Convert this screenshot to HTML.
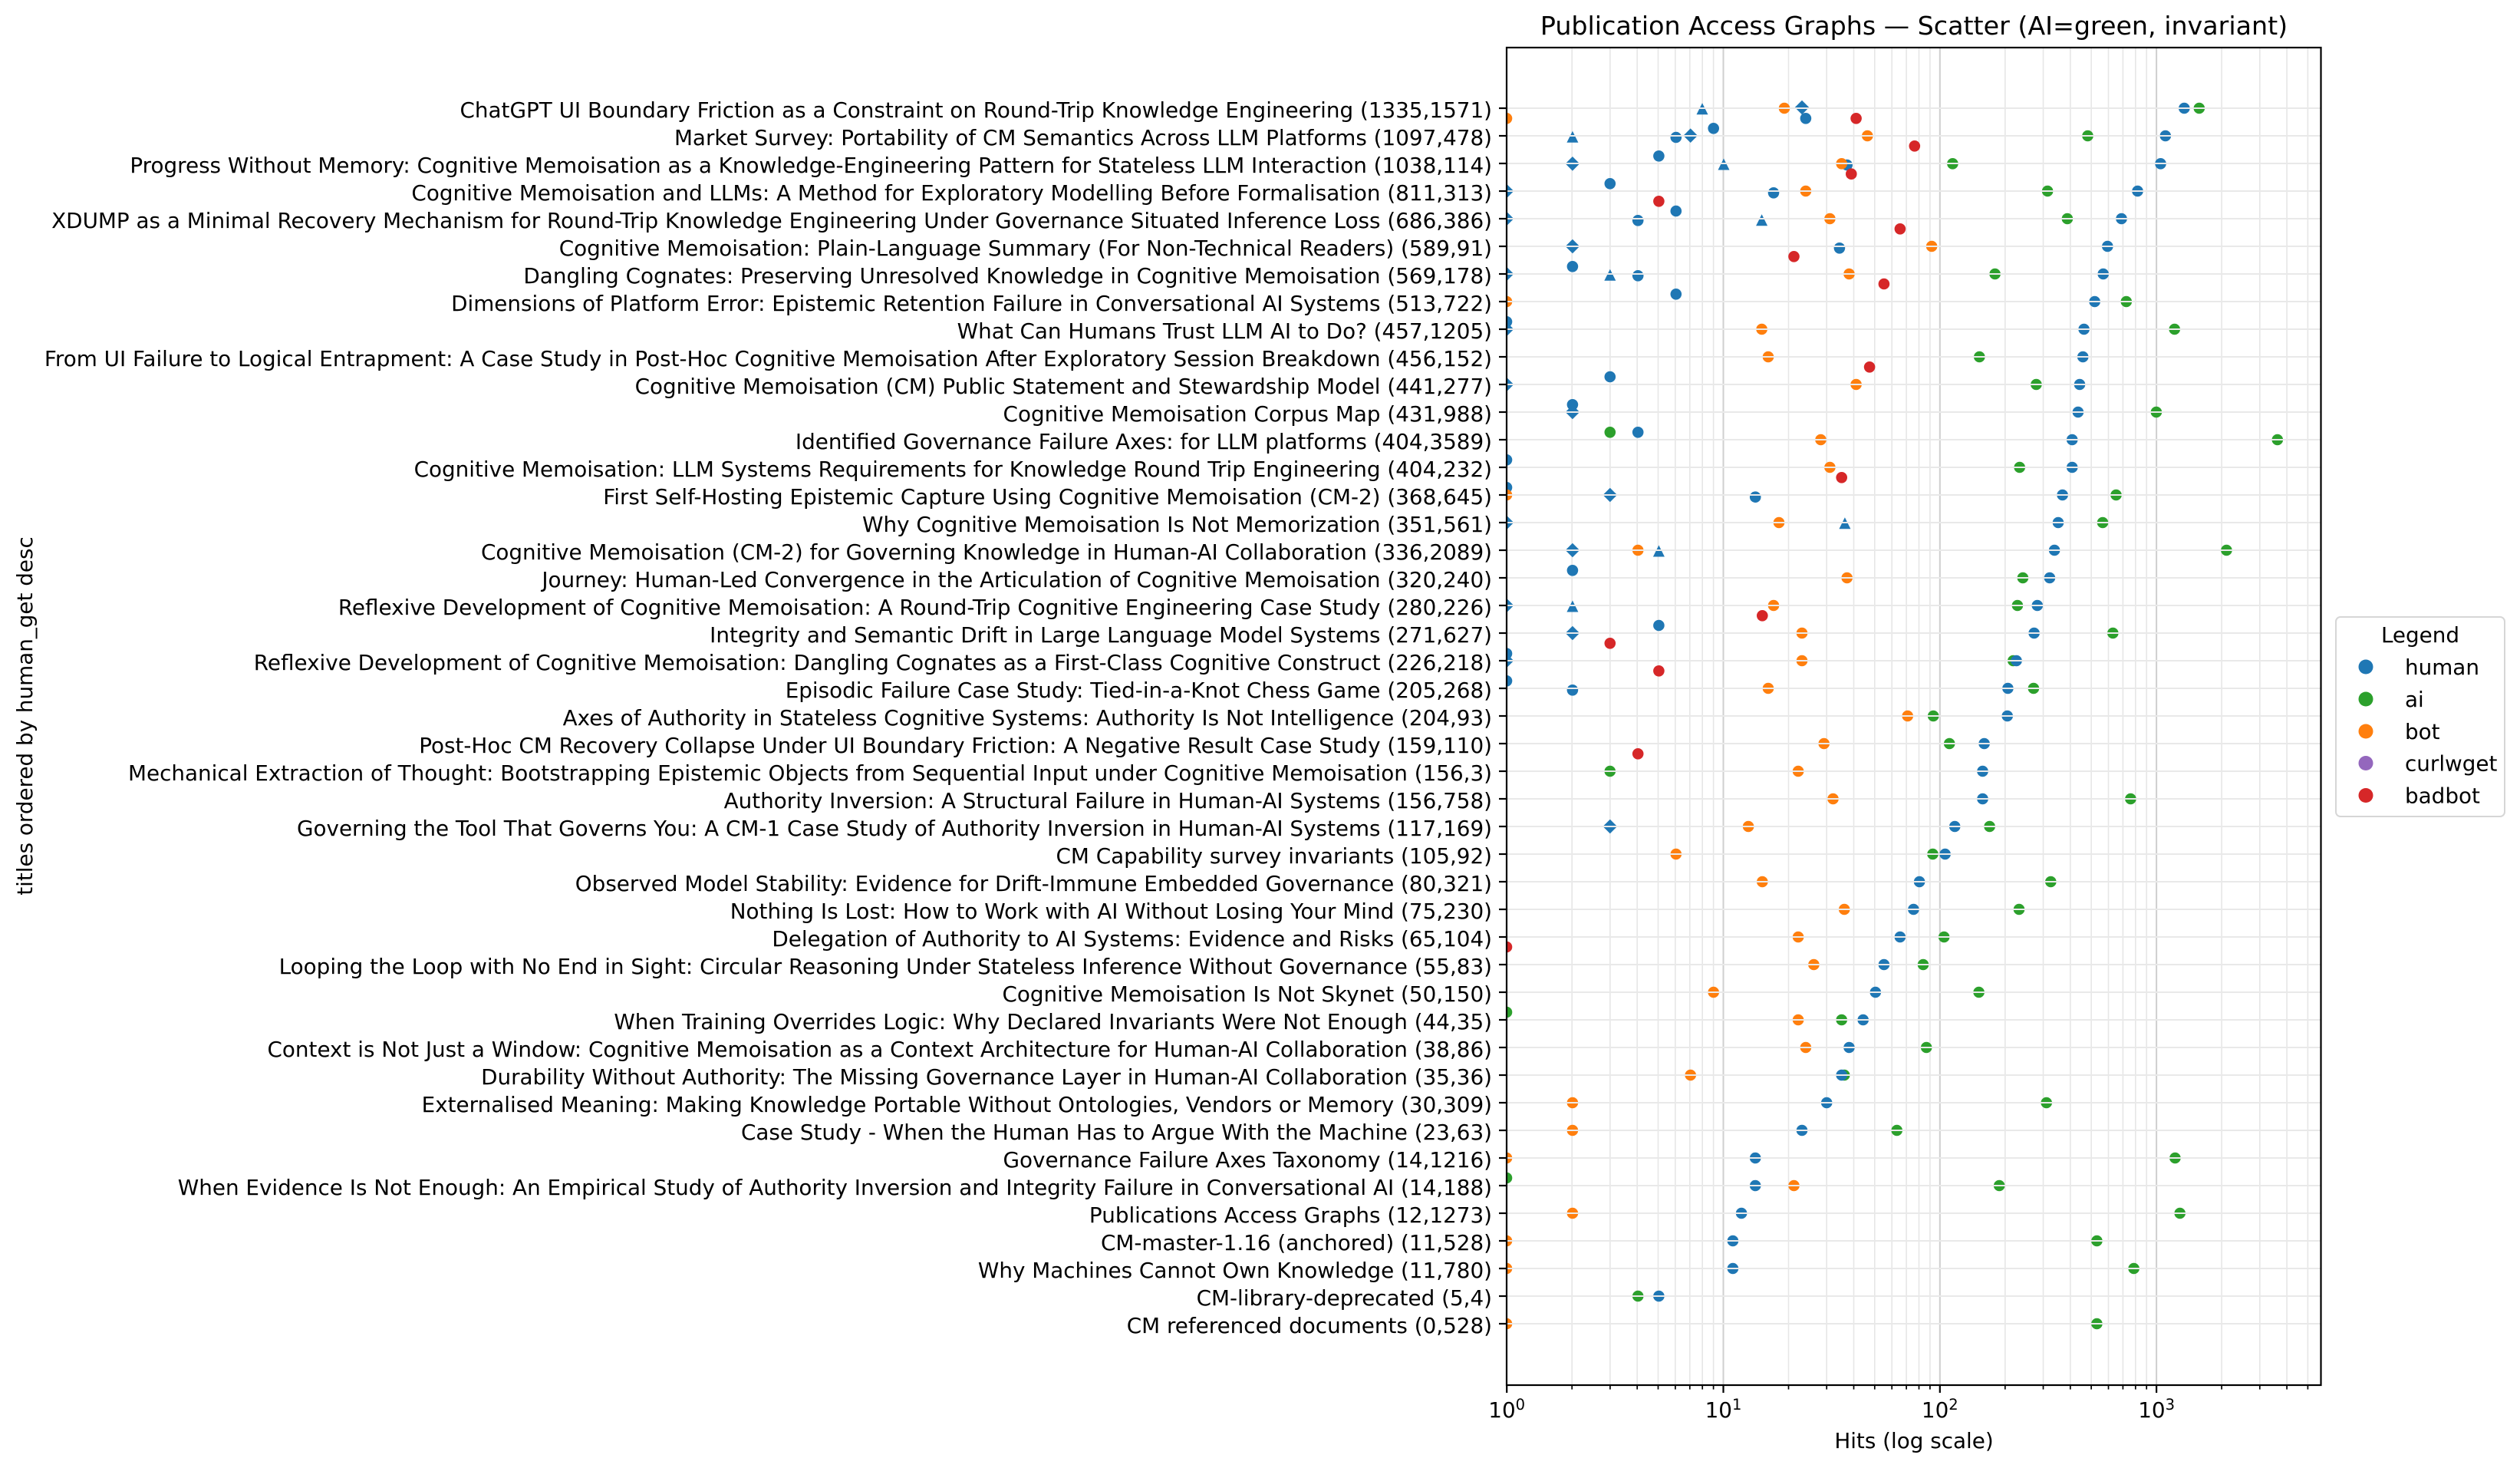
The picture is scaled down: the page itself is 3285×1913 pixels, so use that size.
<!DOCTYPE html>
<html><head><meta charset="utf-8"><style>html,body{margin:0;padding:0;background:#fff}svg{display:block}</style></head>
<body>
<svg width="3285" height="1913" viewBox="0 0 3285 1913" xmlns="http://www.w3.org/2000/svg" font-family="'DejaVu Sans','Liberation Sans',sans-serif">
<defs><clipPath id="ax"><rect x="1964" y="62" width="1062" height="1743"/></clipPath></defs>
<rect width="3285" height="1913" fill="#fff"/>
<text x="2495" y="45" font-size="33.3" text-anchor="middle" fill="#000">Publication Access Graphs — Scatter (AI=green, invariant)</text>
<g stroke="#e6e6e6" stroke-width="1.6">
<line x1="2049.2" y1="62" x2="2049.2" y2="1805"/><line x1="2098.9" y1="62" x2="2098.9" y2="1805"/><line x1="2134.2" y1="62" x2="2134.2" y2="1805"/><line x1="2161.5" y1="62" x2="2161.5" y2="1805"/><line x1="2183.9" y1="62" x2="2183.9" y2="1805"/><line x1="2202.8" y1="62" x2="2202.8" y2="1805"/><line x1="2219.2" y1="62" x2="2219.2" y2="1805"/><line x1="2233.6" y1="62" x2="2233.6" y2="1805"/>
<line x1="2331.5" y1="62" x2="2331.5" y2="1805"/><line x1="2381.2" y1="62" x2="2381.2" y2="1805"/><line x1="2416.5" y1="62" x2="2416.5" y2="1805"/><line x1="2443.8" y1="62" x2="2443.8" y2="1805"/><line x1="2466.2" y1="62" x2="2466.2" y2="1805"/><line x1="2485.1" y1="62" x2="2485.1" y2="1805"/><line x1="2501.5" y1="62" x2="2501.5" y2="1805"/><line x1="2515.9" y1="62" x2="2515.9" y2="1805"/>
<line x1="2613.8" y1="62" x2="2613.8" y2="1805"/><line x1="2663.5" y1="62" x2="2663.5" y2="1805"/><line x1="2698.8" y1="62" x2="2698.8" y2="1805"/><line x1="2726.1" y1="62" x2="2726.1" y2="1805"/><line x1="2748.5" y1="62" x2="2748.5" y2="1805"/><line x1="2767.4" y1="62" x2="2767.4" y2="1805"/><line x1="2783.8" y1="62" x2="2783.8" y2="1805"/><line x1="2798.2" y1="62" x2="2798.2" y2="1805"/>
<line x1="2896.1" y1="62" x2="2896.1" y2="1805"/><line x1="2945.8" y1="62" x2="2945.8" y2="1805"/><line x1="2981.1" y1="62" x2="2981.1" y2="1805"/><line x1="3008.4" y1="62" x2="3008.4" y2="1805"/>
</g>
<g stroke="#cfcfcf" stroke-width="2">
<line x1="2246.5" y1="62" x2="2246.5" y2="1805"/><line x1="2528.8" y1="62" x2="2528.8" y2="1805"/><line x1="2811.1" y1="62" x2="2811.1" y2="1805"/>
</g>
<g clip-path="url(#ax)">
<g fill="#2ca02c">
<circle cx="2866.8" cy="141" r="7.3"/><circle cx="2721.5" cy="177" r="7.3"/><circle cx="2545.4" cy="213.3" r="7.3"/><circle cx="2669.1" cy="249" r="7.3"/><circle cx="2694.9" cy="285" r="7.3"/><circle cx="2600.6" cy="357" r="7.3"/><circle cx="2771.8" cy="393" r="7.3"/><circle cx="2834.7" cy="429" r="7.3"/><circle cx="2580.3" cy="465" r="7.3"/><circle cx="2654.4" cy="501" r="7.3"/><circle cx="2810.9" cy="537" r="7.3"/><circle cx="2098.8" cy="563.3" r="7.3"/><circle cx="2968.8" cy="573" r="7.3"/><circle cx="2632.7" cy="609" r="7.3"/><circle cx="2758.5" cy="645" r="7.3"/><circle cx="2741" cy="681" r="7.3"/><circle cx="2902.4" cy="717" r="7.3"/><circle cx="2636.9" cy="753" r="7.3"/><circle cx="2629.9" cy="789" r="7.3"/><circle cx="2754.3" cy="825" r="7.3"/><circle cx="2624.3" cy="861" r="7.3"/><circle cx="2650.9" cy="897" r="7.3"/><circle cx="2520.2" cy="933" r="7.3"/><circle cx="2541.2" cy="969" r="7.3"/><circle cx="2098.8" cy="1005" r="7.3"/><circle cx="2777.4" cy="1041" r="7.3"/><circle cx="2593.6" cy="1077" r="7.3"/><circle cx="2519.5" cy="1113" r="7.3"/><circle cx="2673.3" cy="1149" r="7.3"/><circle cx="2632" cy="1185" r="7.3"/><circle cx="2534.2" cy="1221" r="7.3"/><circle cx="2507" cy="1257" r="7.3"/><circle cx="2579.6" cy="1293" r="7.3"/><circle cx="1964" cy="1319" r="7.3"/><circle cx="2400.7" cy="1329" r="7.3"/><circle cx="2511.2" cy="1365" r="7.3"/><circle cx="2404.2" cy="1401" r="7.3"/><circle cx="2667.7" cy="1437" r="7.3"/><circle cx="2472.7" cy="1473" r="7.3"/><circle cx="2835.4" cy="1509" r="7.3"/><circle cx="1964" cy="1535" r="7.3"/><circle cx="2606.2" cy="1545" r="7.3"/><circle cx="2841.7" cy="1581" r="7.3"/><circle cx="2733.4" cy="1617" r="7.3"/><circle cx="2781.6" cy="1653" r="7.3"/><circle cx="2135.2" cy="1689" r="7.3"/><circle cx="2733.4" cy="1725" r="7.3"/>
</g>
<g fill="#1f77b4">
<circle cx="2353.9" cy="154.3" r="7.3"/><circle cx="2847.3" cy="141" r="7.3"/><circle cx="2233.7" cy="167.3" r="7.3"/><circle cx="2184.8" cy="179" r="7.3"/><circle cx="2822.8" cy="177" r="7.3"/><circle cx="2162.4" cy="203.3" r="7.3"/><circle cx="2407.7" cy="215" r="7.3"/><circle cx="2816.5" cy="213.3" r="7.3"/><circle cx="2098.8" cy="239.3" r="7.3"/><circle cx="2312" cy="251.3" r="7.3"/><circle cx="2786.5" cy="249" r="7.3"/><circle cx="2184.8" cy="275" r="7.3"/><circle cx="2135.2" cy="287.3" r="7.3"/><circle cx="2765.5" cy="285" r="7.3"/><circle cx="2397.9" cy="323.3" r="7.3"/><circle cx="2747.3" cy="321" r="7.3"/><circle cx="2049.9" cy="347.3" r="7.3"/><circle cx="2135.2" cy="359.3" r="7.3"/><circle cx="2741.7" cy="357" r="7.3"/><circle cx="2184.8" cy="383.3" r="7.3"/><circle cx="2730.6" cy="393" r="7.3"/><circle cx="1964" cy="419.3" r="7.3"/><circle cx="2716.6" cy="429" r="7.3"/><circle cx="2715.2" cy="465" r="7.3"/><circle cx="2098.8" cy="491" r="7.3"/><circle cx="2711" cy="501" r="7.3"/><circle cx="2049.9" cy="527.3" r="7.3"/><circle cx="2708.9" cy="537" r="7.3"/><circle cx="2135.2" cy="563.3" r="7.3"/><circle cx="2701.2" cy="573" r="7.3"/><circle cx="1964" cy="599.3" r="7.3"/><circle cx="2701.2" cy="609" r="7.3"/><circle cx="1964" cy="635.3" r="7.3"/><circle cx="2288.2" cy="647.7" r="7.3"/><circle cx="2688.6" cy="645" r="7.3"/><circle cx="2683" cy="681" r="7.3"/><circle cx="2678.1" cy="717" r="7.3"/><circle cx="2049.9" cy="743.3" r="7.3"/><circle cx="2671.9" cy="753" r="7.3"/><circle cx="2655.8" cy="789" r="7.3"/><circle cx="2162.4" cy="815" r="7.3"/><circle cx="2651.6" cy="825" r="7.3"/><circle cx="1964" cy="851.7" r="7.3"/><circle cx="2628.5" cy="861" r="7.3"/><circle cx="1964" cy="887.3" r="7.3"/><circle cx="2049.9" cy="899.3" r="7.3"/><circle cx="2617.4" cy="897" r="7.3"/><circle cx="2616.7" cy="933" r="7.3"/><circle cx="2586.6" cy="969" r="7.3"/><circle cx="2584.5" cy="1005" r="7.3"/><circle cx="2584.5" cy="1041" r="7.3"/><circle cx="2548.2" cy="1077" r="7.3"/><circle cx="2535.6" cy="1113" r="7.3"/><circle cx="2502.1" cy="1149" r="7.3"/><circle cx="2494.4" cy="1185" r="7.3"/><circle cx="2476.9" cy="1221" r="7.3"/><circle cx="2455.9" cy="1257" r="7.3"/><circle cx="2444.8" cy="1293" r="7.3"/><circle cx="2428.7" cy="1329" r="7.3"/><circle cx="2410.5" cy="1365" r="7.3"/><circle cx="2400.7" cy="1401" r="7.3"/><circle cx="2381.2" cy="1437" r="7.3"/><circle cx="2349" cy="1473" r="7.3"/><circle cx="2288.2" cy="1509" r="7.3"/><circle cx="2288.2" cy="1545" r="7.3"/><circle cx="2270.1" cy="1581" r="7.3"/><circle cx="2258.9" cy="1617" r="7.3"/><circle cx="2258.9" cy="1653" r="7.3"/><circle cx="2162.4" cy="1689" r="7.3"/>
<polygon points="2219,134.2 2211.5,149.2 2226.5,149.2"/><polygon points="2049.9,170.8 2042.4,185.8 2057.4,185.8"/><polygon points="2247,206.5 2239.5,221.5 2254.5,221.5"/><polygon points="2296.6,279.2 2289.1,294.2 2304.1,294.2"/><polygon points="2098.8,350.8 2091.3,365.8 2106.3,365.8"/><polygon points="2404.9,674.2 2397.4,689.2 2412.4,689.2"/><polygon points="2162.4,710.5 2154.9,725.5 2169.9,725.5"/><polygon points="2049.9,782.5 2042.4,797.5 2057.4,797.5"/>
<polygon points="2349,130.7 2358.3,140 2349,149.3 2339.7,140"/><polygon points="2203.7,167.4 2213,176.7 2203.7,186 2194.4,176.7"/><polygon points="2049.9,204 2059.2,213.3 2049.9,222.6 2040.6,213.3"/><polygon points="1964,239.7 1973.3,249 1964,258.3 1954.7,249"/><polygon points="1964,275.7 1973.3,285 1964,294.3 1954.7,285"/><polygon points="2049.9,311.7 2059.2,321 2049.9,330.3 2040.6,321"/><polygon points="1964,347.7 1973.3,357 1964,366.3 1954.7,357"/><polygon points="1964,419.7 1973.3,429 1964,438.3 1954.7,429"/><polygon points="1964,491.7 1973.3,501 1964,510.3 1954.7,501"/><polygon points="2049.9,527.7 2059.2,537 2049.9,546.3 2040.6,537"/><polygon points="2098.8,635.7 2108.1,645 2098.8,654.3 2089.5,645"/><polygon points="1964,671.7 1973.3,681 1964,690.3 1954.7,681"/><polygon points="2049.9,707.7 2059.2,717 2049.9,726.3 2040.6,717"/><polygon points="1964,779.7 1973.3,789 1964,798.3 1954.7,789"/><polygon points="2049.9,815.7 2059.2,825 2049.9,834.3 2040.6,825"/><polygon points="1964,851.7 1973.3,861 1964,870.3 1954.7,861"/><polygon points="2098.8,1067.7 2108.1,1077 2098.8,1086.3 2089.5,1077"/>
</g>
<g fill="#ff7f0e">
<circle cx="2326" cy="141" r="7.3"/><circle cx="1964" cy="154.3" r="7.3"/><circle cx="2434.3" cy="177" r="7.3"/><circle cx="2400.7" cy="213.3" r="7.3"/><circle cx="2353.9" cy="249" r="7.3"/><circle cx="2385.4" cy="285" r="7.3"/><circle cx="2518.1" cy="321" r="7.3"/><circle cx="2410.5" cy="357" r="7.3"/><circle cx="1964" cy="393" r="7.3"/><circle cx="2296.6" cy="429" r="7.3"/><circle cx="2305" cy="465" r="7.3"/><circle cx="2419.6" cy="501" r="7.3"/><circle cx="2373.5" cy="573" r="7.3"/><circle cx="2385.4" cy="609" r="7.3"/><circle cx="1964" cy="645" r="7.3"/><circle cx="2319" cy="681" r="7.3"/><circle cx="2135.2" cy="717" r="7.3"/><circle cx="2407.7" cy="753" r="7.3"/><circle cx="2312" cy="789" r="7.3"/><circle cx="2349" cy="825" r="7.3"/><circle cx="2349" cy="861" r="7.3"/><circle cx="2305" cy="897" r="7.3"/><circle cx="2486.7" cy="933" r="7.3"/><circle cx="2377.7" cy="969" r="7.3"/><circle cx="2344.1" cy="1005" r="7.3"/><circle cx="2389.5" cy="1041" r="7.3"/><circle cx="2279.1" cy="1077" r="7.3"/><circle cx="2184.8" cy="1113" r="7.3"/><circle cx="2297.3" cy="1149" r="7.3"/><circle cx="2404.2" cy="1185" r="7.3"/><circle cx="2344.1" cy="1221" r="7.3"/><circle cx="2364.4" cy="1257" r="7.3"/><circle cx="2233.7" cy="1293" r="7.3"/><circle cx="2344.1" cy="1329" r="7.3"/><circle cx="2353.9" cy="1365" r="7.3"/><circle cx="2203.7" cy="1401" r="7.3"/><circle cx="2049.9" cy="1437" r="7.3"/><circle cx="2049.9" cy="1473" r="7.3"/><circle cx="1964" cy="1509" r="7.3"/><circle cx="2338.5" cy="1545" r="7.3"/><circle cx="2049.9" cy="1581" r="7.3"/><circle cx="1964" cy="1617" r="7.3"/><circle cx="1964" cy="1653" r="7.3"/><circle cx="1964" cy="1725" r="7.3"/>
</g>
<g fill="#d62728">
<circle cx="2419.6" cy="154.3" r="7.3"/><circle cx="2495.8" cy="190.3" r="7.3"/><circle cx="2413.3" cy="226.7" r="7.3"/><circle cx="2162.4" cy="262.3" r="7.3"/><circle cx="2476.9" cy="298.3" r="7.3"/><circle cx="2338.5" cy="334.3" r="7.3"/><circle cx="2455.9" cy="370" r="7.3"/><circle cx="2437.1" cy="478.3" r="7.3"/><circle cx="2400.7" cy="622.3" r="7.3"/><circle cx="2297.3" cy="802.3" r="7.3"/><circle cx="2098.8" cy="838.3" r="7.3"/><circle cx="2162.4" cy="874.3" r="7.3"/><circle cx="2135.2" cy="982.3" r="7.3"/><circle cx="1964" cy="1234" r="7.3"/>
</g>
</g>
<g stroke="#e9e9e9" stroke-width="2">
<line x1="1964" y1="141" x2="3026" y2="141"/><line x1="1964" y1="177" x2="3026" y2="177"/><line x1="1964" y1="213" x2="3026" y2="213"/><line x1="1964" y1="249" x2="3026" y2="249"/><line x1="1964" y1="285" x2="3026" y2="285"/><line x1="1964" y1="321" x2="3026" y2="321"/><line x1="1964" y1="357" x2="3026" y2="357"/><line x1="1964" y1="393" x2="3026" y2="393"/><line x1="1964" y1="429" x2="3026" y2="429"/><line x1="1964" y1="465" x2="3026" y2="465"/><line x1="1964" y1="501" x2="3026" y2="501"/><line x1="1964" y1="537" x2="3026" y2="537"/><line x1="1964" y1="573" x2="3026" y2="573"/><line x1="1964" y1="609" x2="3026" y2="609"/><line x1="1964" y1="645" x2="3026" y2="645"/><line x1="1964" y1="681" x2="3026" y2="681"/><line x1="1964" y1="717" x2="3026" y2="717"/><line x1="1964" y1="753" x2="3026" y2="753"/><line x1="1964" y1="789" x2="3026" y2="789"/><line x1="1964" y1="825" x2="3026" y2="825"/><line x1="1964" y1="861" x2="3026" y2="861"/><line x1="1964" y1="897" x2="3026" y2="897"/><line x1="1964" y1="933" x2="3026" y2="933"/><line x1="1964" y1="969" x2="3026" y2="969"/><line x1="1964" y1="1005" x2="3026" y2="1005"/><line x1="1964" y1="1041" x2="3026" y2="1041"/><line x1="1964" y1="1077" x2="3026" y2="1077"/><line x1="1964" y1="1113" x2="3026" y2="1113"/><line x1="1964" y1="1149" x2="3026" y2="1149"/><line x1="1964" y1="1185" x2="3026" y2="1185"/><line x1="1964" y1="1221" x2="3026" y2="1221"/><line x1="1964" y1="1257" x2="3026" y2="1257"/><line x1="1964" y1="1293" x2="3026" y2="1293"/><line x1="1964" y1="1329" x2="3026" y2="1329"/><line x1="1964" y1="1365" x2="3026" y2="1365"/><line x1="1964" y1="1401" x2="3026" y2="1401"/><line x1="1964" y1="1437" x2="3026" y2="1437"/><line x1="1964" y1="1473" x2="3026" y2="1473"/><line x1="1964" y1="1509" x2="3026" y2="1509"/><line x1="1964" y1="1545" x2="3026" y2="1545"/><line x1="1964" y1="1581" x2="3026" y2="1581"/><line x1="1964" y1="1617" x2="3026" y2="1617"/><line x1="1964" y1="1653" x2="3026" y2="1653"/><line x1="1964" y1="1689" x2="3026" y2="1689"/><line x1="1964" y1="1725" x2="3026" y2="1725"/>
</g>
<rect x="1964" y="62" width="1061.5" height="1743" fill="none" stroke="#000" stroke-width="2.2"/>
<g stroke="#000" stroke-width="2.2">
<line x1="1954" y1="141" x2="1964" y2="141"/><line x1="1954" y1="177" x2="1964" y2="177"/><line x1="1954" y1="213" x2="1964" y2="213"/><line x1="1954" y1="249" x2="1964" y2="249"/><line x1="1954" y1="285" x2="1964" y2="285"/><line x1="1954" y1="321" x2="1964" y2="321"/><line x1="1954" y1="357" x2="1964" y2="357"/><line x1="1954" y1="393" x2="1964" y2="393"/><line x1="1954" y1="429" x2="1964" y2="429"/><line x1="1954" y1="465" x2="1964" y2="465"/><line x1="1954" y1="501" x2="1964" y2="501"/><line x1="1954" y1="537" x2="1964" y2="537"/><line x1="1954" y1="573" x2="1964" y2="573"/><line x1="1954" y1="609" x2="1964" y2="609"/><line x1="1954" y1="645" x2="1964" y2="645"/><line x1="1954" y1="681" x2="1964" y2="681"/><line x1="1954" y1="717" x2="1964" y2="717"/><line x1="1954" y1="753" x2="1964" y2="753"/><line x1="1954" y1="789" x2="1964" y2="789"/><line x1="1954" y1="825" x2="1964" y2="825"/><line x1="1954" y1="861" x2="1964" y2="861"/><line x1="1954" y1="897" x2="1964" y2="897"/><line x1="1954" y1="933" x2="1964" y2="933"/><line x1="1954" y1="969" x2="1964" y2="969"/><line x1="1954" y1="1005" x2="1964" y2="1005"/><line x1="1954" y1="1041" x2="1964" y2="1041"/><line x1="1954" y1="1077" x2="1964" y2="1077"/><line x1="1954" y1="1113" x2="1964" y2="1113"/><line x1="1954" y1="1149" x2="1964" y2="1149"/><line x1="1954" y1="1185" x2="1964" y2="1185"/><line x1="1954" y1="1221" x2="1964" y2="1221"/><line x1="1954" y1="1257" x2="1964" y2="1257"/><line x1="1954" y1="1293" x2="1964" y2="1293"/><line x1="1954" y1="1329" x2="1964" y2="1329"/><line x1="1954" y1="1365" x2="1964" y2="1365"/><line x1="1954" y1="1401" x2="1964" y2="1401"/><line x1="1954" y1="1437" x2="1964" y2="1437"/><line x1="1954" y1="1473" x2="1964" y2="1473"/><line x1="1954" y1="1509" x2="1964" y2="1509"/><line x1="1954" y1="1545" x2="1964" y2="1545"/><line x1="1954" y1="1581" x2="1964" y2="1581"/><line x1="1954" y1="1617" x2="1964" y2="1617"/><line x1="1954" y1="1653" x2="1964" y2="1653"/><line x1="1954" y1="1689" x2="1964" y2="1689"/><line x1="1954" y1="1725" x2="1964" y2="1725"/>
<line x1="1964.2" y1="1805" x2="1964.2" y2="1815"/><line x1="2246.5" y1="1805" x2="2246.5" y2="1815"/><line x1="2528.8" y1="1805" x2="2528.8" y2="1815"/><line x1="2811.1" y1="1805" x2="2811.1" y2="1815"/>
</g>
<g stroke="#000" stroke-width="1.7">
<line x1="2049.2" y1="1805" x2="2049.2" y2="1810.6"/><line x1="2098.9" y1="1805" x2="2098.9" y2="1810.6"/><line x1="2134.2" y1="1805" x2="2134.2" y2="1810.6"/><line x1="2161.5" y1="1805" x2="2161.5" y2="1810.6"/><line x1="2183.9" y1="1805" x2="2183.9" y2="1810.6"/><line x1="2202.8" y1="1805" x2="2202.8" y2="1810.6"/><line x1="2219.2" y1="1805" x2="2219.2" y2="1810.6"/><line x1="2233.6" y1="1805" x2="2233.6" y2="1810.6"/>
<line x1="2331.5" y1="1805" x2="2331.5" y2="1810.6"/><line x1="2381.2" y1="1805" x2="2381.2" y2="1810.6"/><line x1="2416.5" y1="1805" x2="2416.5" y2="1810.6"/><line x1="2443.8" y1="1805" x2="2443.8" y2="1810.6"/><line x1="2466.2" y1="1805" x2="2466.2" y2="1810.6"/><line x1="2485.1" y1="1805" x2="2485.1" y2="1810.6"/><line x1="2501.5" y1="1805" x2="2501.5" y2="1810.6"/><line x1="2515.9" y1="1805" x2="2515.9" y2="1810.6"/>
<line x1="2613.8" y1="1805" x2="2613.8" y2="1810.6"/><line x1="2663.5" y1="1805" x2="2663.5" y2="1810.6"/><line x1="2698.8" y1="1805" x2="2698.8" y2="1810.6"/><line x1="2726.1" y1="1805" x2="2726.1" y2="1810.6"/><line x1="2748.5" y1="1805" x2="2748.5" y2="1810.6"/><line x1="2767.4" y1="1805" x2="2767.4" y2="1810.6"/><line x1="2783.8" y1="1805" x2="2783.8" y2="1810.6"/><line x1="2798.2" y1="1805" x2="2798.2" y2="1810.6"/>
<line x1="2896.1" y1="1805" x2="2896.1" y2="1810.6"/><line x1="2945.8" y1="1805" x2="2945.8" y2="1810.6"/><line x1="2981.1" y1="1805" x2="2981.1" y2="1810.6"/><line x1="3008.4" y1="1805" x2="3008.4" y2="1810.6"/>
</g>
<g font-size="27.8" fill="#000" text-anchor="middle">
<text x="1964.2" y="1847">10<tspan font-size="19.5" dy="-10">0</tspan></text>
<text x="2246.5" y="1847">10<tspan font-size="19.5" dy="-10">1</tspan></text>
<text x="2528.8" y="1847">10<tspan font-size="19.5" dy="-10">2</tspan></text>
<text x="2811.1" y="1847">10<tspan font-size="19.5" dy="-10">3</tspan></text>
<text x="2495" y="1887">Hits (log scale)</text>
<text transform="translate(42,933) rotate(-90)">titles ordered by human_get desc</text>
</g>
<g font-size="27.8" fill="#000" text-anchor="end">
<text x="1945" y="153">ChatGPT UI Boundary Friction as a Constraint on Round-Trip Knowledge Engineering (1335,1571)</text>
<text x="1945" y="189">Market Survey: Portability of CM Semantics Across LLM Platforms (1097,478)</text>
<text x="1945" y="225">Progress Without Memory: Cognitive Memoisation as a Knowledge-Engineering Pattern for Stateless LLM Interaction (1038,114)</text>
<text x="1945" y="261">Cognitive Memoisation and LLMs: A Method for Exploratory Modelling Before Formalisation (811,313)</text>
<text x="1945" y="297">XDUMP as a Minimal Recovery Mechanism for Round-Trip Knowledge Engineering Under Governance Situated Inference Loss (686,386)</text>
<text x="1945" y="333">Cognitive Memoisation: Plain-Language Summary (For Non-Technical Readers) (589,91)</text>
<text x="1945" y="369">Dangling Cognates: Preserving Unresolved Knowledge in Cognitive Memoisation (569,178)</text>
<text x="1945" y="405">Dimensions of Platform Error: Epistemic Retention Failure in Conversational AI Systems (513,722)</text>
<text x="1945" y="441">What Can Humans Trust LLM AI to Do? (457,1205)</text>
<text x="1945" y="477">From UI Failure to Logical Entrapment: A Case Study in Post-Hoc Cognitive Memoisation After Exploratory Session Breakdown (456,152)</text>
<text x="1945" y="513">Cognitive Memoisation (CM) Public Statement and Stewardship Model (441,277)</text>
<text x="1945" y="549">Cognitive Memoisation Corpus Map (431,988)</text>
<text x="1945" y="585">Identified Governance Failure Axes: for LLM platforms (404,3589)</text>
<text x="1945" y="621">Cognitive Memoisation: LLM Systems Requirements for Knowledge Round Trip Engineering (404,232)</text>
<text x="1945" y="657">First Self-Hosting Epistemic Capture Using Cognitive Memoisation (CM-2) (368,645)</text>
<text x="1945" y="693">Why Cognitive Memoisation Is Not Memorization (351,561)</text>
<text x="1945" y="729">Cognitive Memoisation (CM-2) for Governing Knowledge in Human-AI Collaboration (336,2089)</text>
<text x="1945" y="765">Journey: Human-Led Convergence in the Articulation of Cognitive Memoisation (320,240)</text>
<text x="1945" y="801">Reflexive Development of Cognitive Memoisation: A Round-Trip Cognitive Engineering Case Study (280,226)</text>
<text x="1945" y="837">Integrity and Semantic Drift in Large Language Model Systems (271,627)</text>
<text x="1945" y="873">Reflexive Development of Cognitive Memoisation: Dangling Cognates as a First-Class Cognitive Construct (226,218)</text>
<text x="1945" y="909">Episodic Failure Case Study: Tied-in-a-Knot Chess Game (205,268)</text>
<text x="1945" y="945">Axes of Authority in Stateless Cognitive Systems: Authority Is Not Intelligence (204,93)</text>
<text x="1945" y="981">Post-Hoc CM Recovery Collapse Under UI Boundary Friction: A Negative Result Case Study (159,110)</text>
<text x="1945" y="1017">Mechanical Extraction of Thought: Bootstrapping Epistemic Objects from Sequential Input under Cognitive Memoisation (156,3)</text>
<text x="1945" y="1053">Authority Inversion: A Structural Failure in Human-AI Systems (156,758)</text>
<text x="1945" y="1089">Governing the Tool That Governs You: A CM-1 Case Study of Authority Inversion in Human-AI Systems (117,169)</text>
<text x="1945" y="1125">CM Capability survey invariants (105,92)</text>
<text x="1945" y="1161">Observed Model Stability: Evidence for Drift-Immune Embedded Governance (80,321)</text>
<text x="1945" y="1197">Nothing Is Lost: How to Work with AI Without Losing Your Mind (75,230)</text>
<text x="1945" y="1233">Delegation of Authority to AI Systems: Evidence and Risks (65,104)</text>
<text x="1945" y="1269">Looping the Loop with No End in Sight: Circular Reasoning Under Stateless Inference Without Governance (55,83)</text>
<text x="1945" y="1305">Cognitive Memoisation Is Not Skynet (50,150)</text>
<text x="1945" y="1341">When Training Overrides Logic: Why Declared Invariants Were Not Enough (44,35)</text>
<text x="1945" y="1377">Context is Not Just a Window: Cognitive Memoisation as a Context Architecture for Human-AI Collaboration (38,86)</text>
<text x="1945" y="1413">Durability Without Authority: The Missing Governance Layer in Human-AI Collaboration (35,36)</text>
<text x="1945" y="1449">Externalised Meaning: Making Knowledge Portable Without Ontologies, Vendors or Memory (30,309)</text>
<text x="1945" y="1485">Case Study - When the Human Has to Argue With the Machine (23,63)</text>
<text x="1945" y="1521">Governance Failure Axes Taxonomy (14,1216)</text>
<text x="1945" y="1557">When Evidence Is Not Enough: An Empirical Study of Authority Inversion and Integrity Failure in Conversational AI (14,188)</text>
<text x="1945" y="1593">Publications Access Graphs (12,1273)</text>
<text x="1945" y="1629">CM-master-1.16 (anchored) (11,528)</text>
<text x="1945" y="1665">Why Machines Cannot Own Knowledge (11,780)</text>
<text x="1945" y="1701">CM-library-deprecated (5,4)</text>
<text x="1945" y="1737">CM referenced documents (0,528)</text>
</g>
<rect x="3045" y="804" width="220" height="260" rx="6" ry="6" fill="#fff" fill-opacity="0.8" stroke="#d6d6d6" stroke-width="2"/>
<g font-size="27.8" fill="#000">
<text x="3155" y="837" text-anchor="middle">Legend</text>
<circle cx="3084" cy="869" r="9.5" fill="#1f77b4"/><text x="3135" y="879">human</text>
<circle cx="3084" cy="911" r="9.5" fill="#2ca02c"/><text x="3135" y="921">ai</text>
<circle cx="3084" cy="953" r="9.5" fill="#ff7f0e"/><text x="3135" y="963">bot</text>
<circle cx="3084" cy="994.5" r="9.5" fill="#9467bd"/><text x="3135" y="1004.5">curlwget</text>
<circle cx="3084" cy="1036.5" r="9.5" fill="#d62728"/><text x="3135" y="1046.5">badbot</text>
</g>
</svg>
</body></html>
